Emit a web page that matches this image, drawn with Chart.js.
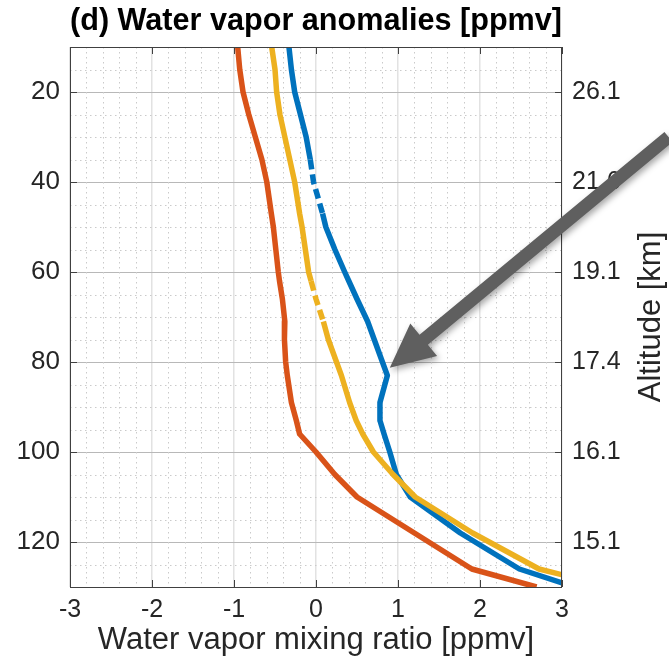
<!DOCTYPE html>
<html>
<head>
<meta charset="utf-8">
<script src="https://cdn.jsdelivr.net/npm/chart.js@4.4.1/dist/chart.umd.min.js"></script>
<style>
  html, body { margin: 0; padding: 0; background: #fff; }
  #wrap { width: 669px; height: 667px; }
</style>
</head>
<body>
<div id="wrap"><canvas id="chart"></canvas></div>
<script>
// pressure levels [hPa] and the anomaly profiles [ppmv]
const pressure = [10, 15, 20, 25, 30, 35, 40, 47, 50, 55, 60, 62, 66, 71, 75, 80, 83, 89, 93, 96, 100, 105, 110, 118, 126, 130];
const blue   = [-0.33, -0.30, -0.26, -0.19, -0.12, -0.07, -0.03, 0.08, 0.12, 0.23, 0.35, 0.40, 0.50, 0.63, 0.71, 0.81, 0.87, 0.78, 0.78, 0.83, 0.90, 0.98, 1.15, 1.76, 2.48, 3.15];
const orange = [-0.955, -0.93, -0.89, -0.82, -0.74, -0.66, -0.60, -0.545, -0.52, -0.49, -0.46, -0.445, -0.41, -0.38, -0.385, -0.37, -0.35, -0.30, -0.24, -0.20, 0.0, 0.23, 0.50, 1.20, 1.90, 2.69];
const yellow = [-0.54, -0.50, -0.48, -0.44, -0.38, -0.32, -0.26, -0.20, -0.17, -0.13, -0.09, -0.06, 0.00, 0.09, 0.15, 0.25, 0.31, 0.41, 0.49, 0.57, 0.70, 0.94, 1.21, 1.91, 2.72, 3.6];

// dashed parts of the profiles (pressure range)
const blueDash = [35, 47];
const yellowDash = [62, 71];

const pressureTicks = [20, 40, 60, 80, 100, 120];
const altitudeLabels = ['26.1', '21.6', '19.1', '17.4', '16.1', '15.1'];

// arrow, in data units (tail is outside the axes on the right)
const arrowTail = {x: 4.3, y: 30};
const arrowTip = {x: 0.9, y: 81.3};

const FONT = '"Liberation Sans", Arial, Helvetica, sans-serif';
const TXT = '#262626';

function toPoints(values) {
  return pressure.map((p, i) => ({x: values[i], y: p}));
}

function dashed(range) {
  return ctx => (ctx.p0.parsed.y >= range[0] && ctx.p1.parsed.y <= range[1]) ? [10, 5] : undefined;
}

const axisPlugin = {
  id: 'axisStuff',
  beforeDatasetsDraw(chart) {
    const {ctx, chartArea: a, scales: {x, y}} = chart;
    ctx.save();
    ctx.strokeStyle = '#cacaca';
    ctx.lineWidth = 1;
    ctx.setLineDash([1.5, 3.5]);
    for (let i = 1; i < 30; i++) {
      if (i % 5 === 0) continue;
      const px = Math.round(x.getPixelForValue(-3 + i * 0.2)) + 0.5;
      ctx.beginPath(); ctx.moveTo(px, a.top); ctx.lineTo(px, a.bottom); ctx.stroke();
    }
    for (let v = 15; v < 130; v += 5) {
      if (v % 20 === 0) continue;
      const py = Math.round(y.getPixelForValue(v)) + 0.5;
      ctx.beginPath(); ctx.moveTo(a.left, py); ctx.lineTo(a.right, py); ctx.stroke();
    }
    ctx.restore();
  },
  afterDatasetsDraw(chart) {
    const {ctx, chartArea: a, scales: {x, y}} = chart;
    ctx.save();
    ctx.strokeStyle = '#404040';
    ctx.lineWidth = 1;
    // tick marks pointing in
    for (let v = -3; v <= 3; v++) {
      const px = Math.round(x.getPixelForValue(v)) + 0.5;
      ctx.beginPath();
      ctx.moveTo(px, a.bottom); ctx.lineTo(px, a.bottom - 7);
      ctx.moveTo(px, a.top); ctx.lineTo(px, a.top + 7);
      ctx.stroke();
    }
    pressureTicks.forEach(v => {
      const py = Math.round(y.getPixelForValue(v)) + 0.5;
      ctx.beginPath();
      ctx.moveTo(a.left, py); ctx.lineTo(a.left + 7, py);
      ctx.moveTo(a.right, py); ctx.lineTo(a.right - 7, py);
      ctx.stroke();
    });
    // box
    ctx.strokeRect(Math.round(a.left) + 0.5, Math.round(a.top) + 0.5,
      Math.round(a.right - a.left) - 1, Math.round(a.bottom - a.top));
    ctx.restore();
  },
  afterDraw(chart) {
    const {ctx, chartArea: a, scales: {x, y}} = chart;
    // arrow
    const tx = x.getPixelForValue(arrowTail.x), ty = y.getPixelForValue(arrowTail.y);
    const hx = x.getPixelForValue(arrowTip.x), hy = y.getPixelForValue(arrowTip.y);
    const len = Math.hypot(hx - tx, hy - ty);
    const ux = (hx - tx) / len, uy = (hy - ty) / len;
    const nx = -uy, ny = ux;
    const sw = 6.5, hw = 21, hl = 44;
    const bx = hx - ux * hl, by = hy - uy * hl;
    ctx.save();
    ctx.shadowColor = 'rgba(0,0,0,0.35)';
    ctx.shadowBlur = 6;
    ctx.shadowOffsetX = 2;
    ctx.shadowOffsetY = 3;
    ctx.fillStyle = '#5f5f5f';
    ctx.beginPath();
    ctx.moveTo(tx + nx * sw, ty + ny * sw);
    ctx.lineTo(bx + nx * sw, by + ny * sw);
    ctx.lineTo(bx + nx * hw, by + ny * hw);
    ctx.lineTo(hx, hy);
    ctx.lineTo(bx - nx * hw, by - ny * hw);
    ctx.lineTo(bx - nx * sw, by - ny * sw);
    ctx.lineTo(tx - nx * sw, ty - ny * sw);
    ctx.closePath();
    ctx.fill();
    ctx.restore();
    // right axis label, reading upwards
    ctx.save();
    ctx.fillStyle = TXT;
    ctx.font = '31px ' + FONT;
    ctx.textAlign = 'center';
    ctx.textBaseline = 'middle';
    ctx.translate(651, (a.top + a.bottom) / 2);
    ctx.rotate(-Math.PI / 2);
    ctx.fillText('Altitude [km]', 0, 0);
    ctx.restore();
  }
};

new Chart(document.getElementById('chart'), {
  type: 'line',
  data: {
    datasets: [
      {
        label: 'yellow',
        data: toPoints(yellow),
        borderColor: '#EDB120',
        segment: {borderDash: dashed(yellowDash)}
      },
      {
        label: 'blue',
        data: toPoints(blue),
        borderColor: '#0072BD',
        segment: {borderDash: dashed(blueDash)}
      },
      {
        label: 'orange',
        data: toPoints(orange),
        borderColor: '#D95319'
      }
    ]
  },
  options: {
    responsive: true,
    maintainAspectRatio: false,
    animation: false,
    indexAxis: 'y',
    layout: {padding: 0},
    datasets: {
      line: {
        borderWidth: 5.5,
        pointRadius: 0,
        tension: 0,
        fill: false,
        clip: 0,
        borderJoinStyle: 'round'
      }
    },
    plugins: {
      legend: {display: false},
      tooltip: {enabled: false},
      title: {
        display: true,
        text: '(d) Water vapor anomalies [ppmv]',
        fullSize: false,
        color: '#000',
        font: {family: FONT, size: 31, weight: 'bold'},
        padding: {top: 3, bottom: 6.8}
      }
    },
    scales: {
      x: {
        type: 'linear',
        min: -3,
        max: 3,
        ticks: {
          stepSize: 1,
          color: TXT,
          padding: 8,
          font: {family: FONT, size: 25},
          maxRotation: 0
        },
        grid: {color: '#e2e2e2', lineWidth: 1.5, drawTicks: false},
        border: {display: false},
        title: {
          display: true,
          text: 'Water vapor mixing ratio [ppmv]',
          color: TXT,
          font: {family: FONT, size: 31},
          padding: {top: 0, bottom: 8.4}
        },
        afterFit: s => { s.height = 80; }
      },
      y: {
        type: 'linear',
        position: 'left',
        min: 10,
        max: 130,
        reverse: true,
        afterBuildTicks: s => { s.ticks = pressureTicks.map(v => ({value: v})); },
        ticks: {
          color: TXT,
          padding: 10,
          font: {family: FONT, size: 26}
        },
        grid: {color: '#b8b8b8', lineWidth: 1, drawTicks: false},
        border: {display: false},
        afterFit: s => { s.width = 70; }
      },
      y2: {
        type: 'linear',
        position: 'right',
        min: 10,
        max: 130,
        reverse: true,
        afterBuildTicks: s => { s.ticks = pressureTicks.map(v => ({value: v})); },
        ticks: {
          color: TXT,
          padding: 10,
          font: {family: FONT, size: 25},
          callback: (v, i) => altitudeLabels[i]
        },
        grid: {drawOnChartArea: false, drawTicks: false},
        border: {display: false},
        afterFit: s => { s.width = 107; }
      }
    }
  },
  plugins: [axisPlugin]
});
</script>
</body>
</html>
